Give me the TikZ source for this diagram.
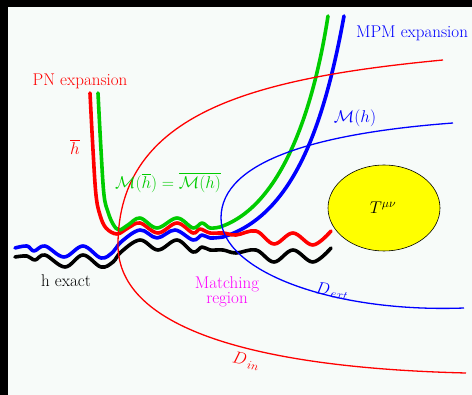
\RequirePackage{fix-cm}
\documentclass[tikz,border=0pt]{standalone}
\usepackage{amsmath}
\usetikzlibrary{shapes.geometric}
\definecolor{bgw}{RGB}{247,251,249}
\definecolor{fgreen}{RGB}{0,204,0}
\definecolor{fred}{RGB}{255,0,0}
\definecolor{fblue}{RGB}{0,0,255}
\definecolor{fmag}{RGB}{255,0,255}
\definecolor{fyel}{RGB}{255,255,0}
\begin{document}
\begin{tikzpicture}[x=1pt,y=-1pt,
  lbl/.style={font=\fontsize{17}{20}\selectfont, inner sep=0pt},
  thickc/.style={line width=3.6pt, line cap=round, line join=round},
  thinc/.style={line width=1.3pt}]
\useasboundingbox (0,0) rectangle (472,395);
\fill[black] (0,0) rectangle (472,395);
\fill[bgw] (8,7) rectangle (472,395);

% thick curves
\draw[thickc, black] plot[smooth, tension=0.6] coordinates {(15,257) (27,256) (35,260) (45,255) (65,267) (83,255) (101,267) (113,262) (121,252) (140,240) (158,250) (177,240) (193,252) (202,247) (210,250) (223,250) (236,253) (256,250) (274,262) (293,250) (313,262) (331,248)};
\draw[thickc, fblue] plot[smooth, tension=0.6] coordinates {(15,248) (27,246) (34,251) (45,246) (64,257) (83,246) (101,258) (113,252) (121,242) (140,230) (157,238) (175,230) (193,240) (202,235) (210,238) (223,237)}
  .. controls (295,215) and (325,120) .. (344,16);
\draw[thickc, fred] plot[smooth, tension=0.6] coordinates {(90,93) (93,150) (96,195) (100,215) (106,228) (117,234) (128,228) (140,223) (158,233) (177,223) (193,233) (200,229) (210,233) (223,233) (236,235) (256,231) (274,244) (293,233) (313,245) (331,231)};
\draw[thickc, fgreen] plot[smooth, tension=0.6] coordinates {(98,93) (101,150) (104,195) (108,212) (113,224) (119,230) (128,225) (140,218) (157,228) (177,218) (193,228) (202,223) (210,228) (220,227)}
  .. controls (285,205) and (315,100) .. (328,16);

% thin domain boundaries
\draw[thinc, fred] (443,60) .. controls (255,78) and (118,112) .. (118,245)
  .. controls (118,330) and (260,368) .. (466,373);
\draw[thinc, fblue] (453,123) .. controls (320,133) and (221,160) .. (221,218)
  .. controls (221,270) and (330,313) .. (464,308);

% source
\node[ellipse, draw=black, line width=0.6pt, fill=fyel, minimum width=112pt, minimum height=86pt, inner sep=0pt] (src) at (384,208) {};
\node[lbl] (tmn) at (383,208) {$T^{\mu\nu}$};

% labels
\node[lbl, fred] (pn) at (80,81) {PN expansion};
\node[lbl, fred] (hbar) at (75,147) {$\overline{h}$};
\node[lbl, fblue] (mpm) at (412,33) {MPM expansion};
\node[lbl, fblue] (mh) at (355,118) {$\mathcal{M}(h)$};
\node[lbl, fgreen] (mhbar) at (168,183) {$\mathcal{M}(\overline{h}) = \overline{\mathcal{M}(h)}$};
\node[lbl, black] (hex) at (66,281) {h exact};
\node[lbl, fmag, align=center, font=\fontsize{17}{13}\selectfont] (match) at (227,292) {Matching\\region};
\node[lbl, fblue, rotate=-8] (dext) at (332,291) {$D_{\,ext}$};
\node[lbl, fred, rotate=-12] (din) at (246,361) {$D_{\,in}$};
\end{tikzpicture}
\end{document}
